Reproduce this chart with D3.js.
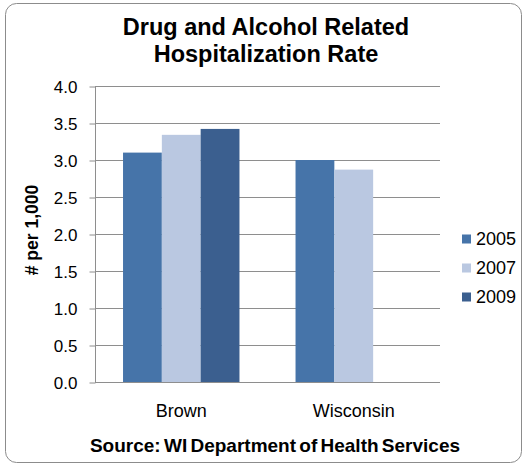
<!DOCTYPE html>
<html><head><meta charset="utf-8">
<script src="https://cdn.jsdelivr.net/npm/d3@7"></script>
<style>
html,body{margin:0;padding:0;background:#fff;}
svg{display:block;font-family:"Liberation Sans",Arial,sans-serif;}
</style></head>
<body><svg id="c" width="524" height="466"></svg>
<script>
const categories = ["Brown", "Wisconsin"];
const seriesNames = ["2005", "2007", "2009"];
const values2005 = [3.10, 3.00];
const values2007 = [3.34, 2.87];
const values2009 = [3.42, null];
const yTicks = [0, 0.5, 1.0, 1.5, 2.0, 2.5, 3.0, 3.5, 4.0];
const colors = ["#4674A9", "#BAC8E1", "#3B5F8F"];
const titleLines = ["Drug and Alcohol Related", "Hospitalization Rate"];
const yTitle = "# per 1,000";
const sourceText = "Source: WI Department of Health Services";

(function () {
const seriesValues = [values2005, values2007, values2009];
const svg = d3.select("#c");

svg.append("rect").attr("x", 5.5).attr("y", 3.5).attr("width", 516).attr("height", 459)
  .attr("rx", 11).attr("fill", "#fff").attr("stroke", "#8c8c8c").attr("stroke-width", 1);

const pL = 95, pR = 440, pT = 86, pB = 382;
const y = d3.scaleLinear().domain([0, 4]).range([pB, pT]);
const x = d3.scaleBand().domain(categories).range([pL, pR])
  .paddingInner(0.325).paddingOuter(0.1625);
const xs = d3.scaleBand().domain(seriesNames).range([0, x.bandwidth()]).padding(0);

svg.append("g").selectAll("line").data(yTicks).join("line")
  .attr("x1", pL).attr("x2", pR)
  .attr("y1", d => Math.round(y(d)) + 0.5).attr("y2", d => Math.round(y(d)) + 0.5)
  .attr("stroke", "#8e8e8e").attr("stroke-width", 1);

const rows = [];
categories.forEach((c, i) => seriesNames.forEach((s, j) => {
  const v = seriesValues[j][i];
  if (v != null) rows.push({c, s, v, j});
}));
svg.append("g").selectAll("rect").data(rows).join("rect")
  .attr("x", d => x(d.c) + xs(d.s))
  .attr("width", xs.bandwidth())
  .attr("y", d => y(d.v))
  .attr("height", d => y(0) - y(d.v))
  .attr("fill", d => colors[d.j]);

const yAxis = d3.axisLeft(y).tickValues(yTicks).tickFormat(d3.format(".1f")).tickSize(6).tickPadding(12);
const ga = svg.append("g").attr("transform", `translate(${pL + 0.5},0.5)`).call(yAxis);
ga.select(".domain").attr("stroke", "#8e8e8e").attr("d", `M0,${pT}V${pB}`);
ga.selectAll(".tick line").attr("stroke", "#8e8e8e");
ga.selectAll(".tick text").attr("font-size", 17).attr("fill", "#000")
  .attr("font-family", "'Liberation Sans',Arial,sans-serif").attr("dy", "0.36em");

svg.append("line").attr("x1", pL).attr("x2", pR)
  .attr("y1", pB + 0.5).attr("y2", pB + 0.5).attr("stroke", "#8e8e8e");

svg.append("g").selectAll("text").data(categories).join("text")
  .attr("x", d => x(d) + x.bandwidth() / 2).attr("y", 417)
  .attr("text-anchor", "middle").attr("font-size", 18).text(d => d);

svg.append("g").selectAll("text").data(titleLines).join("text")
  .attr("x", 266).attr("y", (d, i) => 35 + i * 27)
  .attr("text-anchor", "middle").attr("font-size", 23.5).attr("font-weight", "bold").text(d => d);

svg.append("text").attr("transform", "translate(38,230) rotate(-90)")
  .attr("text-anchor", "middle").attr("font-size", 17.5).attr("font-weight", "bold").text(yTitle);

const lg = svg.append("g").selectAll("g").data(seriesNames).join("g")
  .attr("transform", (d, i) => `translate(462,${239 + i * 29})`);
lg.append("rect").attr("x", 0).attr("y", -4.5).attr("width", 9).attr("height", 9)
  .attr("fill", (d, i) => colors[i]);
lg.append("text").attr("x", 14).attr("y", 0).attr("dy", "0.36em").attr("font-size", 18).text(d => d);

svg.append("text").attr("x", 275).attr("y", 452).attr("text-anchor", "middle")
  .attr("font-size", 19).attr("font-weight", "bold").attr("word-spacing", -2).text(sourceText);
})();
</script></body></html>
